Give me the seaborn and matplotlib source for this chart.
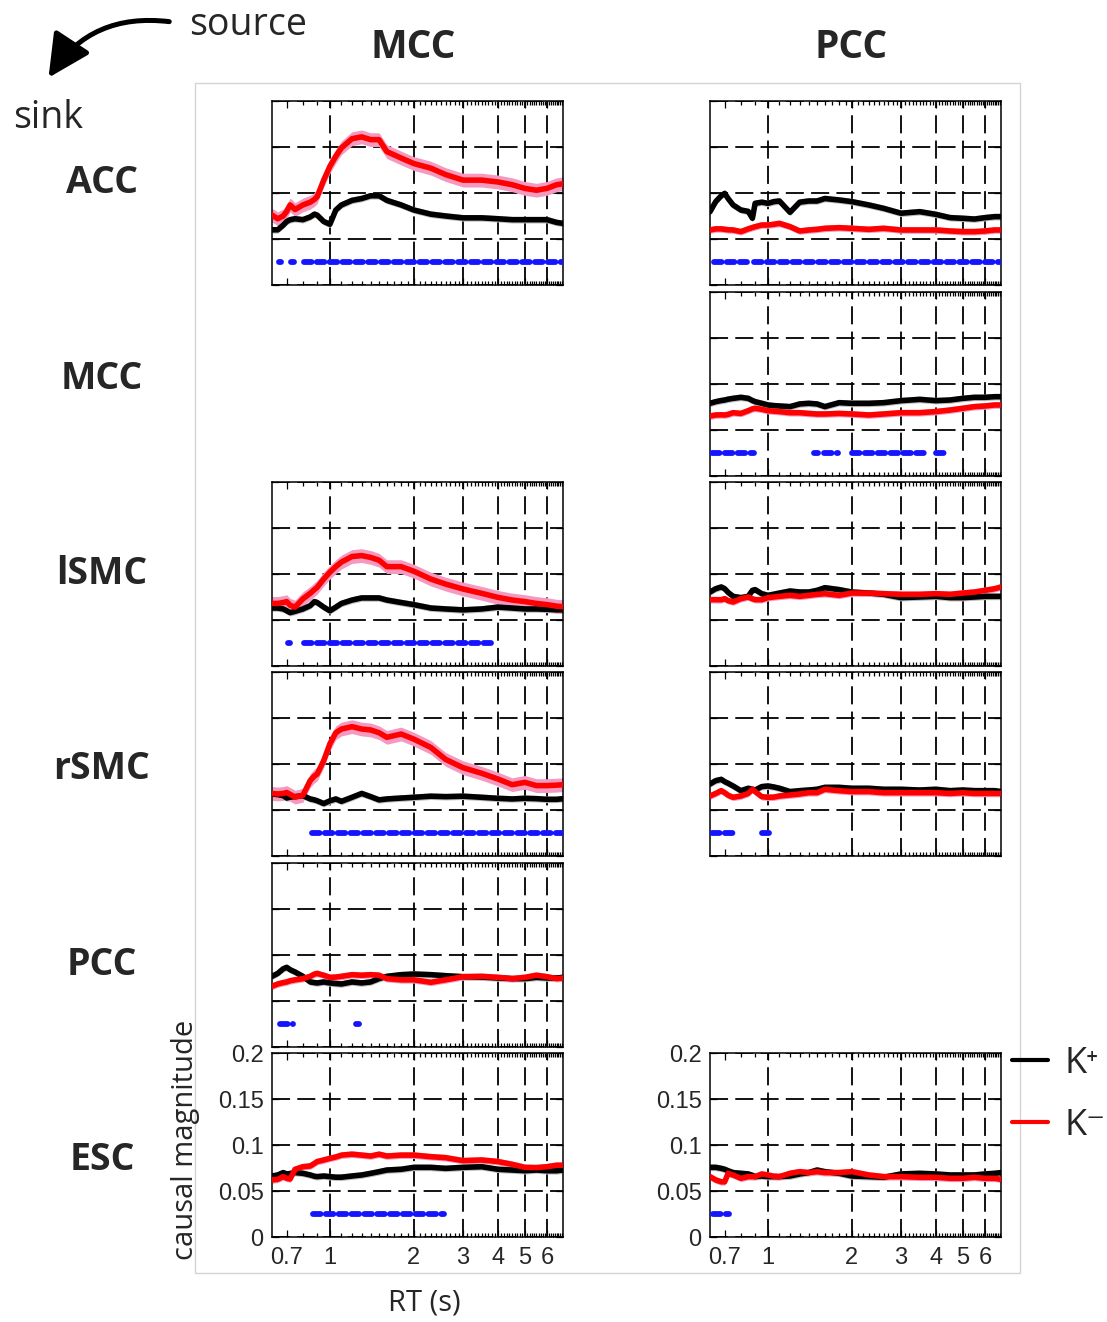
import numpy as np
import pandas as pd
import matplotlib
matplotlib.use("Agg")
import matplotlib.pyplot as plt
import seaborn as sns
from matplotlib.patches import FancyArrowPatch, Rectangle
from matplotlib.lines import Line2D
from matplotlib.ticker import FixedLocator, NullFormatter

# ---------------- data ----------------
RT = [0.62, 0.65, 0.68, 0.70, 0.72, 0.75, 0.80, 0.85, 0.88, 0.90, 0.95, 1.00,
      1.05, 1.10, 1.20, 1.30, 1.40, 1.50, 1.60, 1.80, 2.00, 2.30, 2.60, 3.00,
      3.50, 4.00, 4.50, 5.00, 5.50, 6.00, 6.50, 6.85]

SOURCES = ["MCC", "PCC"]
SINKS = ["ACC", "MCC", "lSMC", "rSMC", "PCC", "ESC"]
LEGEND_LABELS = ["K\u207a", "K\u207b"]
X_TICKS = [0.7, 1, 2, 3, 4, 5, 6]
X_TICK_LABELS = ["0.7", "1", "2", "3", "4", "5", "6"]
Y_TICKS = [0, 0.05, 0.1, 0.15, 0.2]
Y_TICK_LABELS = ["0", "0.05", "0.1", "0.15", "0.2"]
SIG_LEVEL = 0.025

# source MCC
MCC_ACC_KPOS = [0.060, 0.060, 0.065, 0.069, 0.071, 0.072, 0.071, 0.074, 0.077, 0.076, 0.069, 0.066,
                0.0815, 0.087, 0.092, 0.094, 0.097, 0.097, 0.092, 0.087, 0.0815, 0.077, 0.075, 0.073,
                0.073, 0.072, 0.071, 0.071, 0.071, 0.071, 0.068, 0.067]
MCC_ACC_KNEG = [0.076, 0.072, 0.075, 0.080, 0.087, 0.082, 0.087, 0.090, 0.093, 0.096, 0.114, 0.129,
                0.140, 0.149, 0.159, 0.161, 0.158, 0.158, 0.145, 0.138, 0.132, 0.127, 0.120, 0.114,
                0.114, 0.112, 0.109, 0.105, 0.103, 0.105, 0.109, 0.110]
MCC_ACC_SIG = [(0.655, 0.668), (0.728, 0.742), (0.81, 6.85)]

MCC_LSMC_KPOS = [0.063, 0.063, 0.062, 0.060, 0.058, 0.0594, 0.062, 0.0656, 0.070, 0.069, 0.064, 0.060,
                 0.064, 0.068, 0.0717, 0.074, 0.074, 0.074, 0.0717, 0.069, 0.0667, 0.063, 0.062, 0.061,
                 0.062, 0.064, 0.063, 0.062, 0.062, 0.0616, 0.061, 0.061]
MCC_LSMC_KNEG = [0.068, 0.068, 0.069, 0.070, 0.066, 0.064, 0.073, 0.079, 0.083, 0.0855, 0.0945, 0.102,
                 0.108, 0.113, 0.119, 0.120, 0.118, 0.115, 0.108, 0.108, 0.103, 0.0945, 0.089, 0.0837,
                 0.079, 0.0746, 0.0717, 0.070, 0.068, 0.0667, 0.065, 0.0645]
MCC_LSMC_SIG = [(0.707, 0.719), (0.81, 3.78)]

MCC_RSMC_KPOS = [0.0674, 0.0667, 0.0656, 0.063, 0.064, 0.0645, 0.0656, 0.062, 0.061, 0.060, 0.057, 0.060,
                 0.062, 0.0594, 0.0638, 0.068, 0.0645, 0.061, 0.062, 0.063, 0.0638, 0.065, 0.0645, 0.065,
                 0.0638, 0.0627, 0.062, 0.0627, 0.0623, 0.0616, 0.0616, 0.0623]
MCC_RSMC_KNEG = [0.068, 0.0674, 0.068, 0.069, 0.067, 0.064, 0.066, 0.082, 0.087, 0.089, 0.1036, 0.122,
                 0.134, 0.138, 0.1406, 0.138, 0.137, 0.134, 0.129, 0.1326, 0.127, 0.118, 0.105, 0.096,
                 0.0899, 0.0837, 0.0775, 0.080, 0.0765, 0.0765, 0.077, 0.0775]
MCC_RSMC_SIG = [(0.86, 6.85)]

MCC_PCC_KPOS = [0.0768, 0.080, 0.085, 0.0866, 0.084, 0.0815, 0.0768, 0.0707, 0.070, 0.0696, 0.0707, 0.0696,
                0.069, 0.0685, 0.0707, 0.0696, 0.0707, 0.0743, 0.0768, 0.0786, 0.0793, 0.0786, 0.0775, 0.0764,
                0.076, 0.075, 0.0743, 0.0743, 0.0757, 0.075, 0.075, 0.0757]
MCC_PCC_KNEG = [0.066, 0.0685, 0.070, 0.0707, 0.072, 0.073, 0.0743, 0.0768, 0.0793, 0.080, 0.078, 0.0757,
                0.076, 0.0768, 0.0786, 0.078, 0.0786, 0.078, 0.0743, 0.073, 0.073, 0.0703, 0.073, 0.0764,
                0.0768, 0.0757, 0.0743, 0.0757, 0.078, 0.0764, 0.0743, 0.075]
MCC_PCC_SIG = [(0.66, 0.737), (1.245, 1.275)]

MCC_ESC_KPOS = [0.0663, 0.0674, 0.070, 0.0685, 0.069, 0.070, 0.0692, 0.0674, 0.066, 0.0656, 0.0663, 0.0656,
                0.065, 0.065, 0.0663, 0.0674, 0.0692, 0.071, 0.0728, 0.0736, 0.0757, 0.0757, 0.0746, 0.0757,
                0.0764, 0.0736, 0.0728, 0.072, 0.0728, 0.072, 0.072, 0.0728]
MCC_ESC_KNEG = [0.062, 0.0627, 0.0656, 0.0638, 0.063, 0.0736, 0.0764, 0.0772, 0.080, 0.082, 0.0837, 0.0855,
                0.087, 0.089, 0.090, 0.089, 0.088, 0.090, 0.088, 0.089, 0.089, 0.0873, 0.0862, 0.083,
                0.0837, 0.082, 0.079, 0.0757, 0.0754, 0.0764, 0.078, 0.078]
MCC_ESC_SIG = [(0.867, 2.56)]

# source PCC
PCC_ACC_KPOS = [0.0797, 0.0906, 0.097, 0.0996, 0.094, 0.087, 0.0815, 0.080, 0.0725, 0.0888, 0.090, 0.0888,
                0.0906, 0.0913, 0.079, 0.090, 0.0913, 0.0913, 0.094, 0.0924, 0.0906, 0.087, 0.0833, 0.078,
                0.0797, 0.0768, 0.0732, 0.0725, 0.0717, 0.0732, 0.0743, 0.0743]
PCC_ACC_KNEG = [0.0598, 0.061, 0.061, 0.0605, 0.060, 0.0598, 0.058, 0.061, 0.0625, 0.0634, 0.0652, 0.0652,
                0.066, 0.067, 0.0634, 0.0587, 0.0598, 0.0605, 0.0616, 0.0623, 0.0616, 0.0605, 0.0616, 0.0598,
                0.0598, 0.0598, 0.0587, 0.058, 0.058, 0.0587, 0.0598, 0.0598]
PCC_ACC_SIG = [(0.64, 0.84), (0.89, 6.85)]

PCC_MCC_KPOS = [0.079, 0.0808, 0.082, 0.0826, 0.0835, 0.0844, 0.0855, 0.0844, 0.082, 0.0808, 0.079, 0.0772,
                0.0765, 0.0761, 0.0754, 0.0783, 0.079, 0.0783, 0.0754, 0.0797, 0.079, 0.079, 0.0797, 0.0819,
                0.0833, 0.0819, 0.0826, 0.0844, 0.0855, 0.0855, 0.0862, 0.0862]
PCC_MCC_KNEG = [0.0652, 0.0663, 0.0665, 0.0663, 0.067, 0.0688, 0.068, 0.071, 0.073, 0.0736, 0.0725, 0.071,
                0.0705, 0.070, 0.0688, 0.0688, 0.068, 0.0674, 0.0674, 0.068, 0.0674, 0.0663, 0.0674, 0.0688,
                0.0688, 0.070, 0.0717, 0.0736, 0.0754, 0.0761, 0.0772, 0.0772]
PCC_MCC_SIG = [(0.632, 0.891), (1.46, 1.51), (1.59, 1.79), (1.995, 3.78), (3.99, 4.33)]

PCC_LSMC_KPOS = [0.0804, 0.084, 0.0859, 0.084, 0.080, 0.0757, 0.0743, 0.0757, 0.0822, 0.083, 0.0786, 0.0768,
                 0.078, 0.0793, 0.0815, 0.0804, 0.0804, 0.0822, 0.0851, 0.083, 0.0804, 0.0793, 0.0779, 0.0743,
                 0.075, 0.0757, 0.0743, 0.0743, 0.075, 0.0757, 0.0757, 0.0757]
PCC_LSMC_KNEG = [0.0721, 0.0721, 0.072, 0.0732, 0.071, 0.0696, 0.0732, 0.075, 0.073, 0.0721, 0.0721, 0.0743,
                 0.075, 0.0757, 0.0768, 0.0757, 0.0768, 0.0779, 0.0786, 0.0768, 0.0793, 0.0793, 0.0786, 0.0779,
                 0.0779, 0.0786, 0.0779, 0.0793, 0.0804, 0.0822, 0.084, 0.0859]
PCC_LSMC_SIG = []

PCC_RSMC_KPOS = [0.0783, 0.0819, 0.0833, 0.0808, 0.079, 0.0761, 0.071, 0.0736, 0.0725, 0.0717, 0.0754, 0.0761,
                 0.075, 0.0736, 0.070, 0.071, 0.0717, 0.0725, 0.0746, 0.0746, 0.0736, 0.0736, 0.0725, 0.0725,
                 0.0717, 0.0725, 0.071, 0.0717, 0.071, 0.071, 0.071, 0.070]
PCC_RSMC_KNEG = [0.0652, 0.068, 0.071, 0.0688, 0.066, 0.0638, 0.0652, 0.068, 0.0725, 0.070, 0.0645, 0.0638,
                 0.064, 0.0652, 0.0663, 0.0674, 0.0688, 0.0688, 0.0725, 0.071, 0.070, 0.070, 0.0688, 0.0688,
                 0.0688, 0.0688, 0.068, 0.0688, 0.068, 0.068, 0.068, 0.068]
PCC_RSMC_SIG = [(0.632, 0.77), (0.954, 1.008)]

PCC_ESC_KPOS = [0.0757, 0.0757, 0.0746, 0.0736, 0.072, 0.070, 0.0692, 0.0685, 0.067, 0.0656, 0.0663, 0.0656,
                0.0656, 0.0656, 0.0663, 0.0685, 0.070, 0.0728, 0.071, 0.0692, 0.0663, 0.0656, 0.0649, 0.0685,
                0.0692, 0.0685, 0.0674, 0.0674, 0.0674, 0.0685, 0.0692, 0.070]
PCC_ESC_KNEG = [0.0656, 0.062, 0.060, 0.060, 0.0692, 0.0674, 0.0638, 0.0656, 0.0656, 0.0656, 0.0685, 0.0674,
                0.066, 0.0656, 0.0692, 0.071, 0.070, 0.071, 0.070, 0.070, 0.071, 0.0674, 0.0656, 0.0656,
                0.0649, 0.0649, 0.0638, 0.0638, 0.0649, 0.0638, 0.0638, 0.0627]
PCC_ESC_SIG = [(0.635, 0.725)]

# half-width of the shaded error bands (K+, K-)
SEM_KPOS = 0.0036
SEM_KNEG = 0.0036
SEM_KNEG_LARGE = 0.0075

# ---------------- panel table ----------------
PANELS = [
    # (row, col, kpos, kneg, sem_neg, sig)
    (0, 0, MCC_ACC_KPOS, MCC_ACC_KNEG, SEM_KNEG_LARGE, MCC_ACC_SIG),
    (2, 0, MCC_LSMC_KPOS, MCC_LSMC_KNEG, SEM_KNEG_LARGE, MCC_LSMC_SIG),
    (3, 0, MCC_RSMC_KPOS, MCC_RSMC_KNEG, SEM_KNEG_LARGE, MCC_RSMC_SIG),
    (4, 0, MCC_PCC_KPOS, MCC_PCC_KNEG, SEM_KNEG, MCC_PCC_SIG),
    (5, 0, MCC_ESC_KPOS, MCC_ESC_KNEG, SEM_KNEG, MCC_ESC_SIG),
    (0, 1, PCC_ACC_KPOS, PCC_ACC_KNEG, SEM_KNEG, PCC_ACC_SIG),
    (1, 1, PCC_MCC_KPOS, PCC_MCC_KNEG, SEM_KNEG, PCC_MCC_SIG),
    (2, 1, PCC_LSMC_KPOS, PCC_LSMC_KNEG, SEM_KNEG, PCC_LSMC_SIG),
    (3, 1, PCC_RSMC_KPOS, PCC_RSMC_KNEG, SEM_KNEG, PCC_RSMC_SIG),
    (5, 1, PCC_ESC_KPOS, PCC_ESC_KNEG, SEM_KNEG, PCC_ESC_SIG),
]

# ---------------- style ----------------
sns.set_style("ticks")
plt.rcParams['font.family'] = ['Open Sans', 'DejaVu Sans']
TICK_FONT = ['Liberation Sans', 'DejaVu Sans']

BLACK = "#000000"
RED = "#ff0000"
GRAY_BAND = "#bdbdbd"
PINK_BAND = "#f49ac1"
BLUE = "#1414ff"
GRID_DASH = (0, (10, 4))

W, H = 1107, 1322
fig = plt.figure(figsize=(W / 100, H / 100), dpi=100)
fig.patch.set_facecolor("white")


def rect(l, t, w, h):
    return [l / W, 1 - (t + h) / H, w / W, h / H]


def fxy(x, y):
    return x / W, 1 - y / H


COL_LEFT = [272, 710]
COL_W = [291, 291]
ROW_TOP = [101, 292, 482, 672, 863, 1053]
ROW_H = 184

# outer light frame
fig.add_artist(Rectangle(fxy(195, 1273), (1020 - 195) / W, (1273 - 83) / H,
                         transform=fig.transFigure, fill=False, ec="#d4d4d4", lw=1.0, zorder=0))

n = len(RT)
rt_arr = np.array(RT)
for row, col, kpos, kneg, sem_neg, sig in PANELS:
    ax = fig.add_axes(rect(COL_LEFT[col], ROW_TOP[row], COL_W[col], ROW_H))
    kp = np.array(kpos)
    kn = np.array(kneg)
    ax.fill_between(rt_arr, kp - SEM_KPOS, kp + SEM_KPOS, color=GRAY_BAND, lw=0, zorder=2)
    ax.fill_between(rt_arr, kn - sem_neg, kn + sem_neg, color=PINK_BAND, lw=0, zorder=2)
    df = pd.DataFrame({"RT": RT * 2, "mag": list(kpos) + list(kneg),
                       "group": [LEGEND_LABELS[0]] * n + [LEGEND_LABELS[1]] * n})
    sns.lineplot(data=df, x="RT", y="mag", hue="group",
                 palette={LEGEND_LABELS[0]: BLACK, LEGEND_LABELS[1]: RED},
                 lw=4.0, legend=False, ax=ax, sort=False, zorder=3)
    for s, e in sig:
        ax.plot([s, e], [SIG_LEVEL, SIG_LEVEL], color=BLUE, lw=4.2,
                linestyle=(0, (1.3, 0.9)), dash_capstyle="round", solid_capstyle="round", zorder=3)

    ax.set_xscale("log")
    ax.set_xlim(0.62, 6.85)
    ax.set_ylim(0, 0.2)
    ax.set_xticks(X_TICKS)
    ax.xaxis.set_minor_locator(FixedLocator(np.arange(0.6, 6.9, 0.1)))
    ax.xaxis.set_minor_formatter(NullFormatter())
    ax.set_yticks(Y_TICKS)
    ax.tick_params(which="both", direction="in", top=True, right=True, bottom=True, left=True,
                   width=0.9, color="black")
    ax.tick_params(which="major", length=5)
    ax.tick_params(which="minor", length=3)
    ax.grid(True, which="major", axis="both", color="black", lw=1.3, linestyle=GRID_DASH)
    ax.get_xgridlines()[0].set_visible(False)
    for sp in ax.spines.values():
        sp.set_color("black")
        sp.set_linewidth(1.1)
    ax.set_xlabel("")
    ax.set_ylabel("")
    if row == 5:
        ax.set_xticklabels(X_TICK_LABELS, fontsize=17, family=TICK_FONT)
        ax.set_yticklabels(Y_TICK_LABELS, fontsize=17, family=TICK_FONT)
        ax.tick_params(axis="x", pad=7)
        ax.tick_params(axis="y", pad=6)
    else:
        ax.set_xticklabels([])
        ax.set_yticklabels([])
    if row == 5 and col == 1:
        handles = [Line2D([], [], color=BLACK, lw=3), Line2D([], [], color=RED, lw=3)]
        fig.legend(handles, LEGEND_LABELS, loc="upper left", bbox_to_anchor=fxy(1012, 1046),
                   frameon=False, fontsize=26, handlelength=1.0, handletextpad=0.45,
                   labelspacing=0.72, borderaxespad=0, borderpad=0)

# column titles
for col, name in enumerate(SOURCES):
    fig.text(*fxy(COL_LEFT[col] + COL_W[col] / 2 - 4, 48), name, ha="center", va="center",
             fontsize=28, fontweight="bold")
# row labels
ROW_LABEL_Y = [183, 379, 574, 769, 965, 1160]
for y, name in zip(ROW_LABEL_Y, SINKS):
    fig.text(*fxy(102, y), name, ha="center", va="center", fontsize=27, fontweight="bold")

fig.text(*fxy(248, 25), "source", ha="center", va="center", fontsize=27)
fig.text(*fxy(48, 118), "sink", ha="center", va="center", fontsize=27)
arrow = FancyArrowPatch(fxy(172, 22), fxy(47, 80), transform=fig.transFigure,
                        connectionstyle="arc3,rad=0.32",
                        arrowstyle="-|>,head_width=0.5,head_length=1.0",
                        mutation_scale=26, lw=3.6, color="black")
fig.add_artist(arrow)

fig.text(*fxy(186, 1140), "causal magnitude", rotation=90, ha="center", va="center", fontsize=21)
fig.text(*fxy(424, 1303), "RT (s)", ha="center", va="center", fontsize=21)

fig.savefig("out.png", dpi=100, facecolor="white")
